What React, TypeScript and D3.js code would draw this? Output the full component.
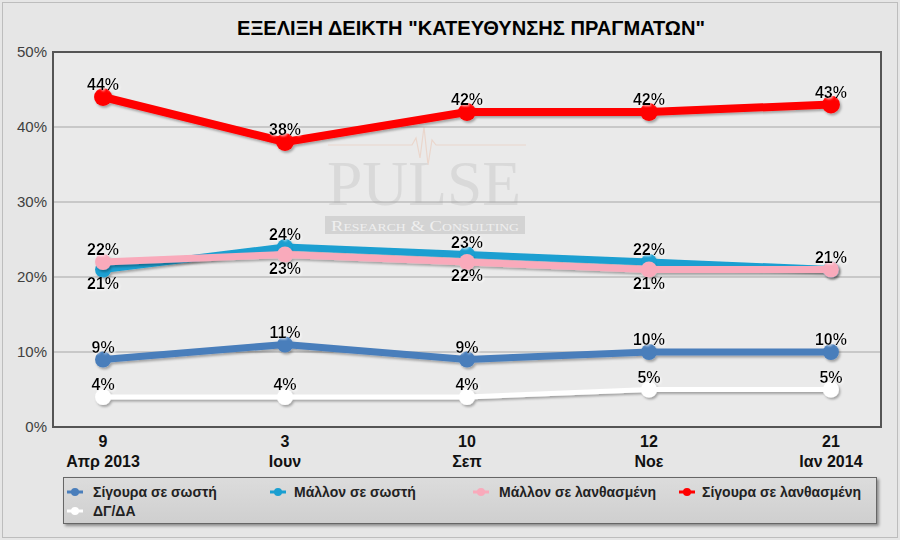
import React from "react";
import * as d3 from "d3";

const categories = ["9|Απρ 2013", "3|Ιουν", "10|Σεπ", "12|Νοε", "21|Ιαν 2014"];
const seriesNames = ["Σίγουρα σε σωστή", "Μάλλον σε σωστή", "Μάλλον σε λανθασμένη", "Σίγουρα σε λανθασμένη", "ΔΓ/ΔΑ"];
const sigouraSosti = [9, 11, 9, 10, 10];
const mallonSosti = [21, 24, 23, 22, 21];
const mallonLanth = [22, 23, 22, 21, 21];
const sigouraLanth = [44, 38, 42, 42, 43];
const dgda = [4, 4, 4, 5, 5];
const yTicks = [0, 10, 20, 30, 40, 50];
// label placement: 1 above, -1 below, 0 none
const labelPos = [
  [1, 1, 1, 1, 1],
  [-1, 1, 1, 1, 0],
  [1, -1, -1, -1, 1],
  [1, 1, 1, 1, 1],
  [1, 1, 1, 1, 1],
];

const colors = ["#4a7ebb", "#1a9fd1", "#f9aabb", "#ff0000", "#ffffff"];
const widths = [7, 7, 7, 8, 5];
const radii = [8, 8, 8, 9, 8];

export default function App() {
  const W = 900, H = 540;
  const left = 53, right = 881, top = 52, bottom = 427;
  const x = d3.scalePoint<string>().domain(categories).range([left, right]).padding(0.275);
  const y = d3.scaleLinear().domain([0, 50]).range([bottom, top]);
  const data = [sigouraSosti, mallonSosti, mallonLanth, sigouraLanth, dgda];
  const line = d3.line<number>().x((_, i) => x(categories[i])!).y((d) => y(d));
  const font = "Arial, 'Liberation Sans', sans-serif";

  const legendItems = [
    { i: 0, mx: 75, tx: 93, ty: 497 },
    { i: 1, mx: 278, tx: 294, ty: 497 },
    { i: 2, mx: 481, tx: 499, ty: 497 },
    { i: 3, mx: 687, tx: 702, ty: 497 },
    { i: 4, mx: 75, tx: 93, ty: 516 },
  ];

  return (
    <svg width={W} height={H} style={{ position: "absolute", left: 0, top: 0 }} fontFamily={font}>
      <defs>
        <filter id="sh" x="-10%" y="-50%" width="120%" height="200%">
          <feDropShadow dx="1.5" dy="2" stdDeviation="1.2" floodColor="#000" floodOpacity="0.3" />
        </filter>
        <filter id="tsh" x="-20%" y="-30%" width="140%" height="160%">
          <feDropShadow dx="1" dy="1" stdDeviation="0.8" floodColor="#fff" floodOpacity="0.9" />
        </filter>
        <filter id="lsh" x="-5%" y="-20%" width="110%" height="150%">
          <feDropShadow dx="2" dy="2" stdDeviation="1.5" floodColor="#000" floodOpacity="0.4" />
        </filter>
        <linearGradient id="lg" x1="0" y1="0" x2="0" y2="1">
          <stop offset="0" stopColor="#dcdcdc" />
          <stop offset="1" stopColor="#cfcfcf" />
        </linearGradient>
      </defs>
      <rect x={0} y={0} width={W} height={H} fill="#e6e6e6" />
      <rect x={2.5} y={2.5} width={W - 5} height={H - 5} fill="none" stroke="#bdbdbd" strokeWidth={1} />
      <text x={471} y={35} textAnchor="middle" fontSize={20} fontWeight="bold" textLength={468}
        lengthAdjust="spacingAndGlyphs" fill="#000">
        ΕΞΕΛΙΞΗ ΔΕΙΚΤΗ "ΚΑΤΕΥΘΥΝΣΗΣ ΠΡΑΓΜΑΤΩΝ"
      </text>
      <rect x={left} y={top} width={right - left} height={bottom - top} fill="#eaeaea" />
      {/* watermark */}
      <g>
        <path d="M328,145 L412,145 L416,138 L420,158 L424,127 L428,165 L432,140 L436,145 L526,145"
          fill="none" stroke="#ead6cc" strokeWidth={1.2} />
        <text x={424} y={205} textAnchor="middle" fontSize={64} textLength={194} lengthAdjust="spacingAndGlyphs"
          fontFamily="'Liberation Serif', 'DejaVu Serif', serif" fill="#d9d9d9">PULSE</text>
        <rect x={325} y={216} width={200} height={18} fill="#d3d3d3" />
        <text x={425} y={231} textAnchor="middle" fontSize={15} textLength={188} lengthAdjust="spacingAndGlyphs"
          fontFamily="'Liberation Serif', serif" fill="#efefef"
          style={{ fontVariant: "small-caps" }}>Research &amp; Consulting</text>
      </g>
      {yTicks.map((t) => (
        <g key={t}>
          {t > 0 && t < 50 && (
            <line x1={left} x2={right} y1={y(t)} y2={y(t)} stroke="#a6a6a6" strokeWidth={1} />
          )}
          <text x={47} y={y(t) + 5} textAnchor="end" fontSize={15} fill="#404040">{t}%</text>
        </g>
      ))}
      <rect x={left} y={top} width={right - left} height={bottom - top} fill="none" stroke="#555" strokeWidth={2} />
      {categories.map((c) => {
        const [a, b] = c.split("|");
        return (
          <g key={c}>
            <text x={x(c)} y={447} textAnchor="middle" fontSize={16} fontWeight="bold" fill="#111">{a}</text>
            <text x={x(c)} y={467} textAnchor="middle" fontSize={16} fontWeight="bold" fill="#111">{b}</text>
          </g>
        );
      })}
      {data.map((s, si) => (
        <g key={si} filter="url(#sh)">
          <path d={line(s)!} fill="none" stroke={colors[si]} strokeWidth={widths[si]} strokeLinejoin="round" />
          {s.map((v, i) => (
            <circle key={i} cx={x(categories[i])} cy={y(v)} r={radii[si]} fill={colors[si]} />
          ))}
        </g>
      ))}
      {data.map((s, si) =>
        s.map((v, i) => {
          const p = labelPos[si][i];
          if (!p) return null;
          const ty = p > 0 ? y(v) - 7 : y(v) + 19;
          return (
            <text key={si + "-" + i} x={x(categories[i])} y={ty} textAnchor="middle" fontSize={16}
              fontWeight="bold" fill="#000" filter="url(#tsh)">{v}%</text>
          );
        })
      )}
      <rect x={63.5} y={477.5} width={813} height={46} fill="url(#lg)" stroke="#666" strokeWidth={1} filter="url(#lsh)" />
      {legendItems.map((it) => (
        <g key={it.i}>
          <line x1={it.mx - 8} x2={it.mx + 8} y1={it.ty - 5} y2={it.ty - 5} stroke={colors[it.i]} strokeWidth={3} />
          <circle cx={it.mx} cy={it.ty - 5} r={4} fill={colors[it.i]} />
          <text x={it.tx} y={it.ty} fontSize={14} fontWeight="bold" fill="#222">{seriesNames[it.i]}</text>
        </g>
      ))}
    </svg>
  );
}
